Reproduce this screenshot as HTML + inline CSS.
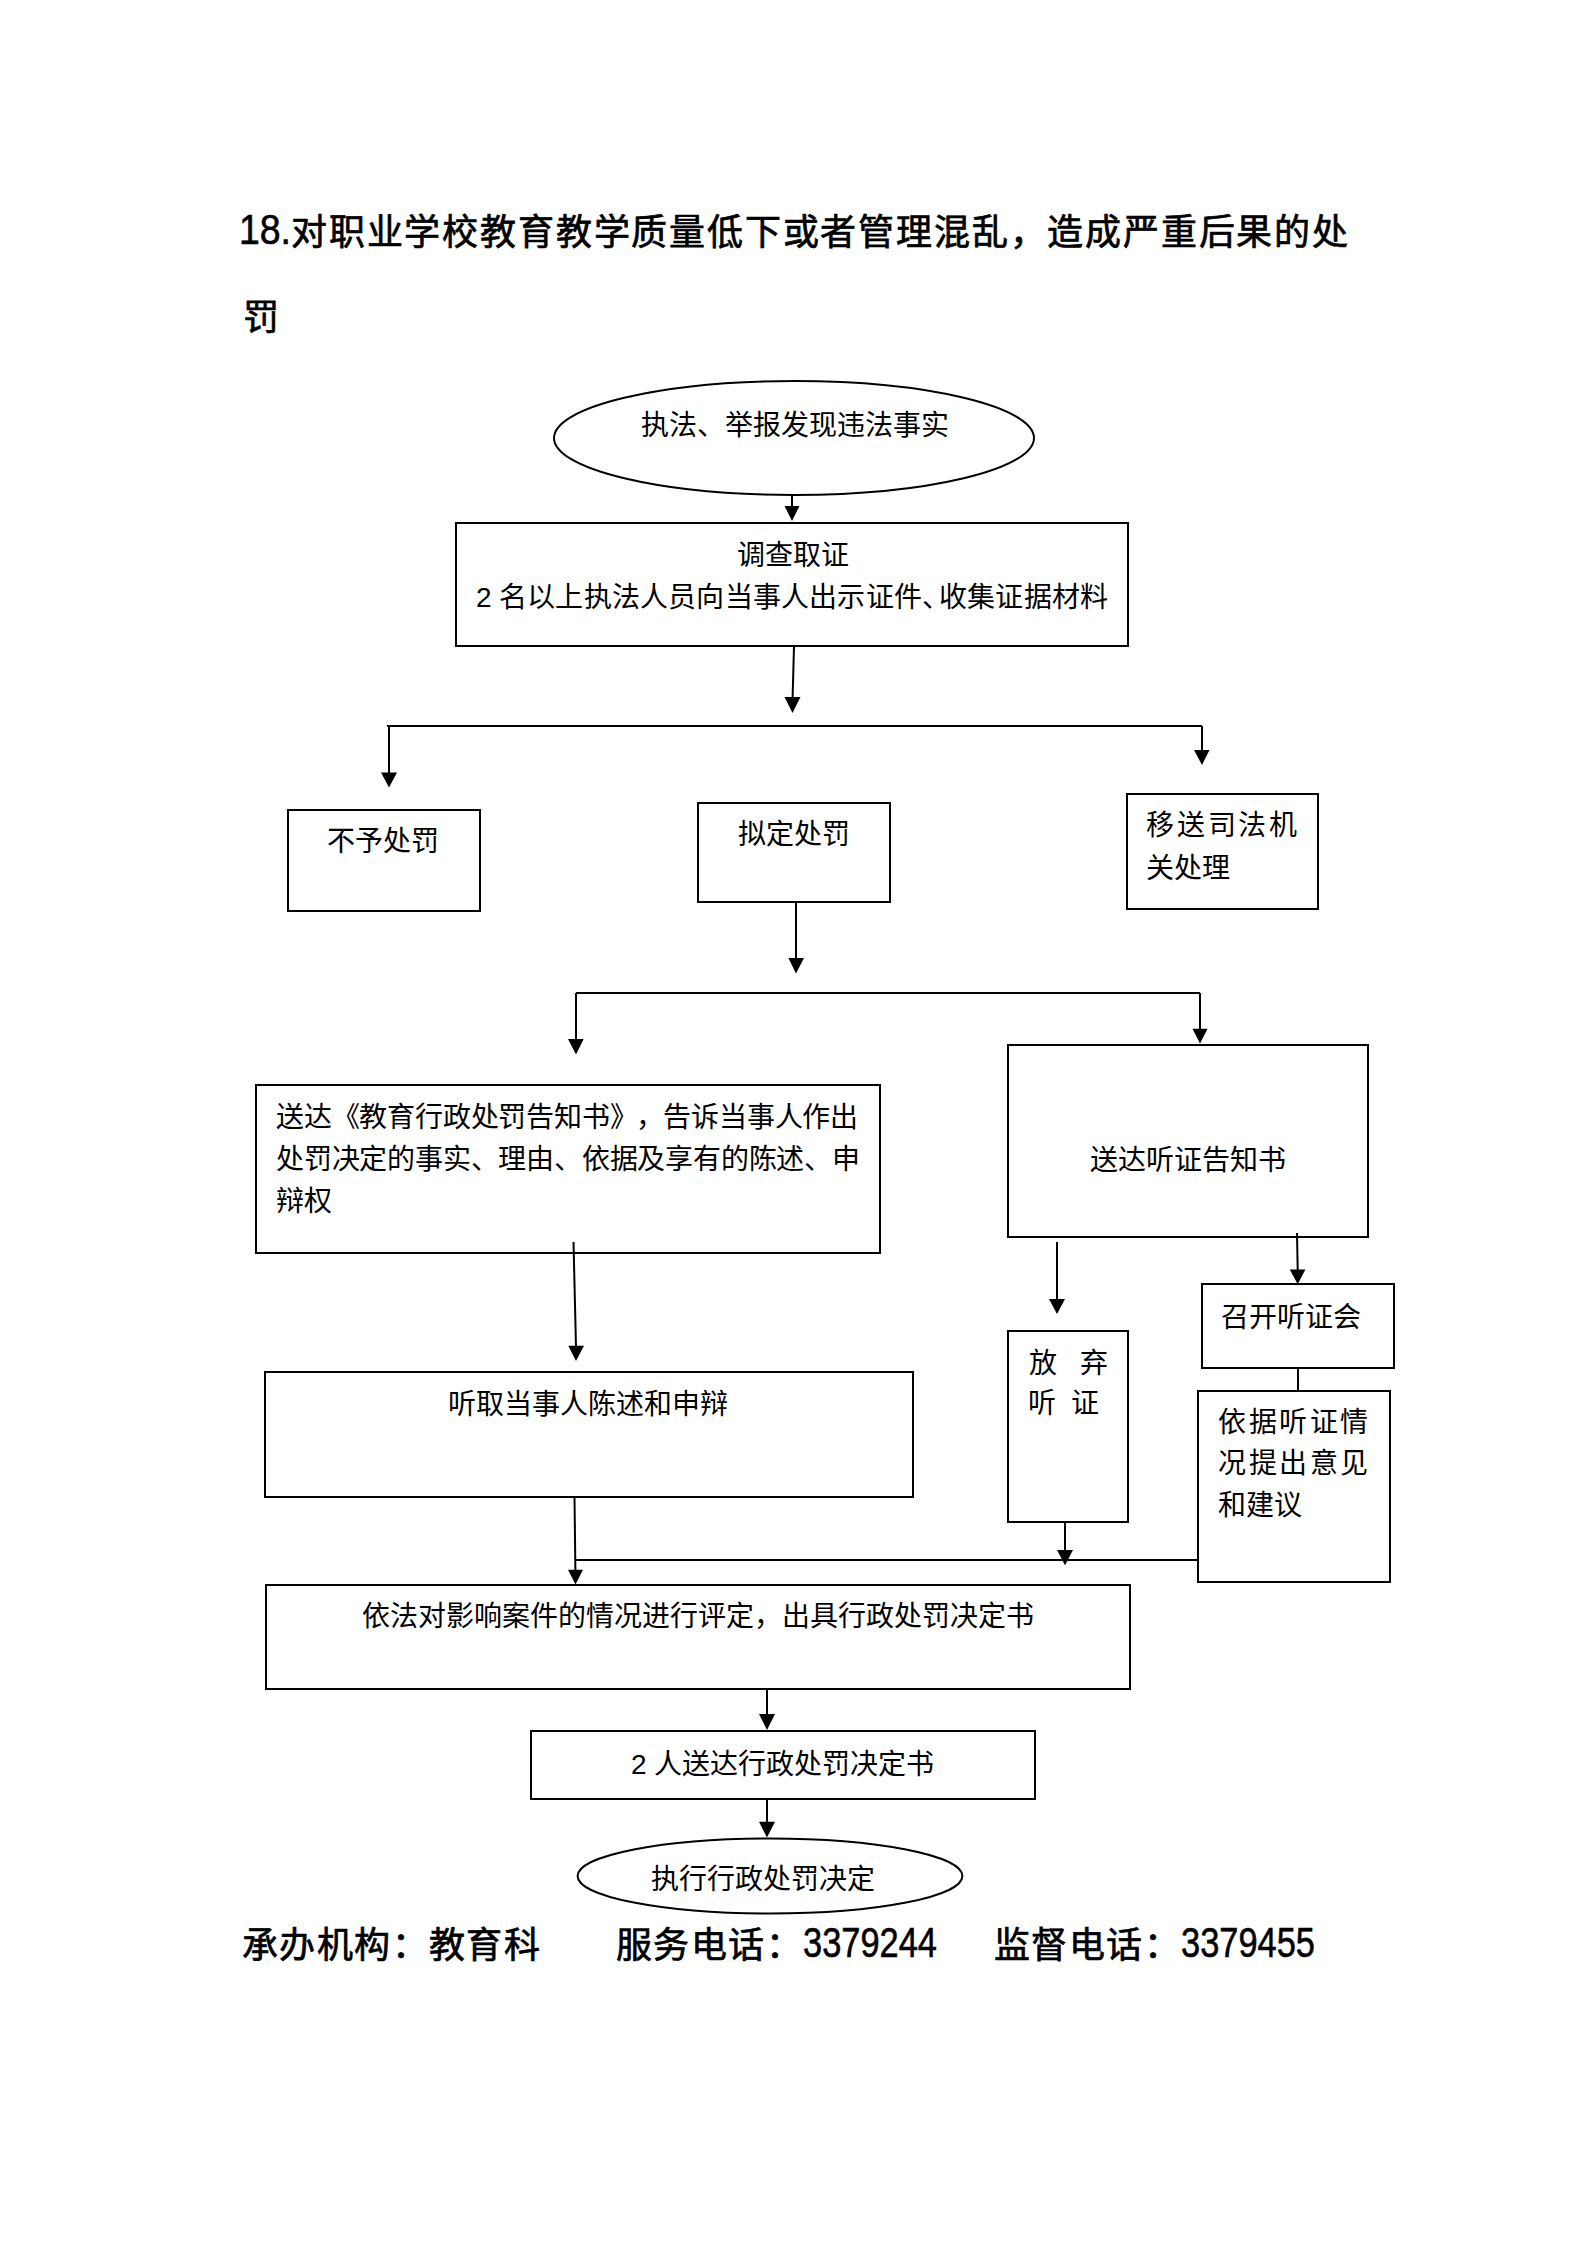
<!DOCTYPE html>
<html lang="zh-CN">
<head>
<meta charset="utf-8">
<style>
html,body{margin:0;padding:0;background:#fff;}
body{width:1587px;height:2245px;position:relative;overflow:hidden;text-spacing-trim:space-all;}
svg{position:absolute;left:0;top:0;}
.t{position:absolute;white-space:nowrap;font-family:"Liberation Serif",serif;font-size:28px;line-height:28px;color:#000;}
.h{position:absolute;white-space:nowrap;font-family:"Liberation Sans",sans-serif;font-size:36px;line-height:36px;font-weight:500;color:#000;letter-spacing:1.4px;-webkit-text-stroke:0.7px #000;}
.d{position:absolute;white-space:nowrap;font-family:"Liberation Sans",sans-serif;font-size:40px;line-height:40px;color:#000;transform-origin:0 0;transform:scaleX(0.87);-webkit-text-stroke:0.6px #000;}
.s{font-family:"Liberation Sans",sans-serif;}
</style>
</head>
<body>
<svg width="1587" height="2245" viewBox="0 0 1587 2245">
<g fill="none" stroke="#000" stroke-width="2">
<ellipse cx="794" cy="438" rx="240" ry="57"/>
<rect x="456" y="523" width="672" height="123"/>
<rect x="288" y="810" width="192" height="101"/>
<rect x="698" y="803" width="192" height="99"/>
<rect x="1127" y="794" width="191" height="115"/>
<rect x="256" y="1085" width="624" height="168"/>
<rect x="1008" y="1045" width="360" height="192"/>
<rect x="265" y="1372" width="648" height="125"/>
<rect x="1008" y="1331" width="120" height="191"/>
<rect x="1202" y="1284" width="192" height="84"/>
<rect x="1198" y="1391" width="192" height="191"/>
<rect x="266" y="1585" width="864" height="104"/>
<rect x="531" y="1731" width="504" height="68"/>
<ellipse cx="770" cy="1876" rx="192.4" ry="37.6"/>
<!-- lines -->
<path d="M792 495 V507"/>
<path d="M794 646 L792.6 698"/>
<path d="M387 726 H1202"/>
<path d="M389 726 V773"/>
<path d="M1202 726 V751"/>
<path d="M796 902 V959"/>
<path d="M576 993 H1200"/>
<path d="M576 993 V1040"/>
<path d="M1200 993 V1030"/>
<path d="M573.5 1242 L576 1347"/>
<path d="M1057 1242 V1300"/>
<path d="M1297 1233 L1297.7 1271"/>
<path d="M574.5 1497 L575.4 1571"/>
<path d="M576 1560 H1198"/>
<path d="M1065 1522 V1551"/>
<path d="M1298 1368 V1391"/>
<path d="M767 1689 V1715"/>
<path d="M767 1799 V1823"/>
</g>
<g fill="#000" stroke="none">
<path d="M784.5 506 H799.5 L792 521 Z"/>
<path d="M784.5 697 H800.5 L792.5 713 Z"/>
<path d="M381 772.5 H397 L389 787.5 Z"/>
<path d="M1194 750 H1209.5 L1202 765 Z"/>
<path d="M788.4 958 H804 L796 973.4 Z"/>
<path d="M568 1039 H583.7 L576 1054.4 Z"/>
<path d="M1192.5 1028.7 H1207.6 L1200 1043.6 Z"/>
<path d="M568.3 1345.7 H584 L576 1361 Z"/>
<path d="M1049 1299 H1065 L1057 1314 Z"/>
<path d="M1289.8 1269.5 H1305.4 L1297.7 1284.3 Z"/>
<path d="M568 1569.8 H583 L575.5 1584.6 Z"/>
<path d="M1057 1550 H1073 L1065 1565.3 Z"/>
<path d="M759 1714 H775 L767 1730 Z"/>
<path d="M759 1821.7 H775 L767 1837.6 Z"/>
</g>
</svg>
<!-- title -->
<div class="d" style="left:239px;top:208px;font-size:43px;line-height:43px;">18.</div>
<div class="h" style="left:291px;top:215px;letter-spacing:1.82px;">对职业学校教育教学质量低下或者管理混乱，造成严重后果的处</div>
<div class="h" style="left:243px;top:300px;">罚</div>
<!-- flow text -->
<div class="t" style="left:641px;top:412px;">执法、举报发现违法事实</div>
<div class="t" style="left:737px;top:542px;">调查取证</div>
<div class="t" style="left:476px;top:584px;letter-spacing:0.2px;"><span class="s">2</span> 名以上执法人员向当事人出示证件<span style="letter-spacing:-11px">、</span>收集证据材料</div>
<div class="t" style="left:327px;top:828px;">不予处罚</div>
<div class="t" style="left:738px;top:821px;">拟定处罚</div>
<div class="t" style="left:1146px;top:812px;letter-spacing:2.75px;">移送司法机</div>
<div class="t" style="left:1146px;top:855px;">关处理</div>
<div class="t" style="left:276px;top:1104px;letter-spacing:-0.2px;">送达《教育行政处罚告知书<span style="letter-spacing:-2px">》</span>，告诉当事人作出</div>
<div class="t" style="left:276px;top:1146px;letter-spacing:-0.2px;">处罚决定的事实、理由、依据及享有的陈述、申</div>
<div class="t" style="left:276px;top:1188px;">辩权</div>
<div class="t" style="left:1090px;top:1147px;">送达听证告知书</div>
<div class="t" style="left:448px;top:1391px;">听取当事人陈述和申辩</div>
<div class="t" style="left:1029px;top:1350px;">放</div>
<div class="t" style="left:1080px;top:1350px;">弃</div>
<div class="t" style="left:1028px;top:1390px;">听</div>
<div class="t" style="left:1071px;top:1390px;">证</div>
<div class="t" style="left:1221px;top:1304px;">召开听证会</div>
<div class="t" style="left:1218px;top:1409px;letter-spacing:2.5px;">依据听证情</div>
<div class="t" style="left:1218px;top:1450px;letter-spacing:2.5px;">况提出意见</div>
<div class="t" style="left:1218px;top:1492px;">和建议</div>
<div class="t" style="left:362px;top:1603px;">依法对影响案件的情况进行评定，出具行政处罚决定书</div>
<div class="t" style="left:631px;top:1751px;"><span class="s">2</span> 人送达行政处罚决定书</div>
<div class="t" style="left:651px;top:1866px;">执行行政处罚决定</div>
<!-- footer -->
<div class="h" style="left:242px;top:1928px;">承办机构：教育科</div>
<div class="h" style="left:616px;top:1928px;">服务电话：</div>
<div class="d" style="left:803px;top:1921px;font-size:43px;line-height:43px;transform:scaleX(0.8)">3379244</div>
<div class="h" style="left:994px;top:1928px;">监督电话：</div>
<div class="d" style="left:1181px;top:1921px;font-size:43px;line-height:43px;transform:scaleX(0.8)">3379455</div>
</body>
</html>
